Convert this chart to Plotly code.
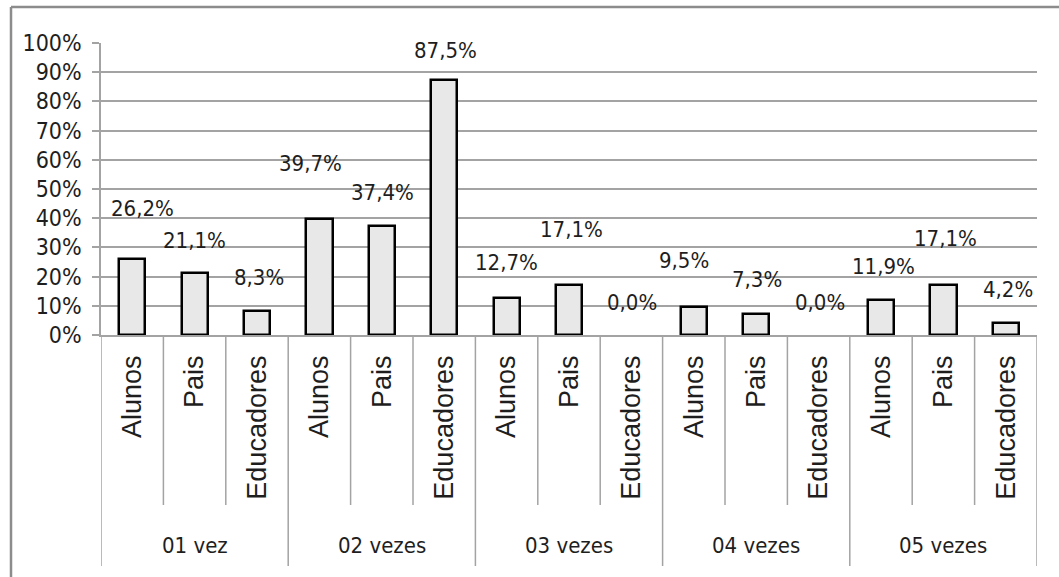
import plotly.graph_objects as go

# ---- data ----
groups = ["01 vez", "02 vezes", "03 vezes", "04 vezes", "05 vezes"]
respondents = ["Alunos", "Pais", "Educadores"]
alunos = [26.2, 39.7, 12.7, 9.5, 11.9]
pais = [21.1, 37.4, 17.1, 7.3, 17.1]
educadores = [8.3, 87.5, 0.0, 0.0, 4.2]
y_ticks = [0, 10, 20, 30, 40, 50, 60, 70, 80, 90, 100]

# flatten in category order
values = []
sub_labels = []
for g in range(len(groups)):
    for r, series in enumerate([alunos, pais, educadores]):
        values.append(series[g])
        sub_labels.append(respondents[r])
xs = list(range(len(values)))

# label placement offsets (pixels) - layout only
label_dx = [10, 0, 2, -9, 1, 1, 0, 2, 1, -10, 1, 1, 2, 2, 2]
label_dy = [50, 33, 33, 56, 33, 29, 35, 56, 33, 47, 34, 33, 34, 47, 33]

W, H = 1059, 577
L, R, T, B = 101, 22, 43, 242
PW, PH = W - L - R, H - T - B


def px_x(px):
    return (px - L) / PW


def px_y(py):
    return (H - B - py) / PH


GRID = "#a3a3a3"
TXT = "#1e1e1e"
NARROW = "DejaVu Sans Condensed, Liberation Sans Narrow, sans-serif"
WIDE = "Liberation Sans, Arial, sans-serif"

fig = go.Figure()
fig.add_trace(go.Bar(
    x=xs, y=values, width=0.42,
    marker=dict(color="#e8e8e8",
                line=dict(color="#000000",
                          width=[2.5 if v > 0 else 0 for v in values])),
    hoverinfo="skip",
))

annotations = []
for i, v in enumerate(values):
    annotations.append(dict(
        x=xs[i], y=v, xref="x", yref="y",
        text=f"{v:.1f}%".replace(".", ","),
        showarrow=False, xshift=label_dx[i], yshift=label_dy[i],
        font=dict(family=NARROW, size=22, color=TXT),
        xanchor="center", yanchor="middle",
    ))
for g, name in enumerate(groups):
    annotations.append(dict(
        x=g * 3 + 1, y=px_y(545), xref="x", yref="paper",
        text=name, showarrow=False,
        font=dict(family=NARROW, size=22, color=TXT),
        xanchor="center", yanchor="middle",
    ))

shapes = []
# inner dividers
for g in range(len(groups)):
    for k in (0.5, 1.5):
        shapes.append(dict(type="line", xref="x", yref="paper",
                           x0=g * 3 + k, x1=g * 3 + k,
                           y0=0, y1=px_y(505),
                           line=dict(color=GRID, width=1.5)))
# group dividers
for g in range(len(groups) + 1):
    xv = g * 3 - 0.5
    shapes.append(dict(type="line", xref="x", yref="paper",
                       x0=xv, x1=xv, y0=0, y1=px_y(566),
                       line=dict(color=GRID, width=1.5)))
# outer chart border (top & left)
shapes.append(dict(type="line", xref="paper", yref="paper",
                   x0=px_x(11), x1=px_x(1059), y0=px_y(7), y1=px_y(7),
                   line=dict(color="#8c8c8c", width=2.5)))
shapes.append(dict(type="line", xref="paper", yref="paper",
                   x0=px_x(11), x1=px_x(11), y0=px_y(7), y1=px_y(577),
                   line=dict(color="#8c8c8c", width=2.5)))

fig.update_layout(
    width=W, height=H,
    margin=dict(l=L, r=R, t=T, b=B, pad=0),
    paper_bgcolor="white", plot_bgcolor="white",
    showlegend=False,
    annotations=annotations,
    shapes=shapes,
    bargap=0,
)
fig.update_xaxes(
    range=[-0.5, len(values) - 0.5],
    tickmode="array", tickvals=xs, ticktext=sub_labels,
    tickangle=-90, ticks="", showgrid=False,
    showline=True, linecolor=GRID, linewidth=1.5,
    tickfont=dict(family=WIDE, size=27, color=TXT),
    ticklabelstandoff=8,
    zeroline=False,
)
fig.update_yaxes(
    range=[0, 100], tickmode="array", tickvals=y_ticks,
    ticktext=[f"{t}%" for t in y_ticks],
    showgrid=True, gridcolor=GRID, gridwidth=1.5,
    showline=True, linecolor=GRID, linewidth=1.5,
    ticks="outside", ticklen=7, tickcolor=GRID, tickwidth=1.5,
    tickfont=dict(family=NARROW, size=23, color=TXT),
    ticklabelstandoff=6,
    zeroline=False,
)

fig.write_html("out.html")
